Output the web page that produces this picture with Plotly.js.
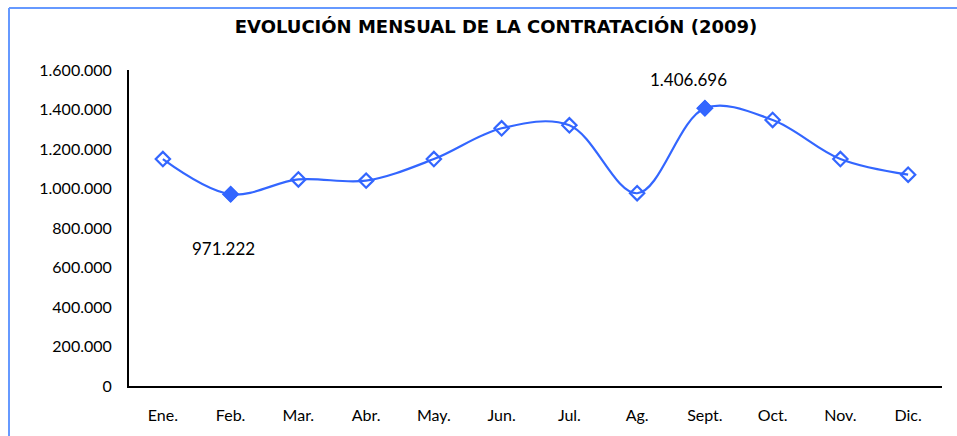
<!DOCTYPE html>
<html>
<head>
<meta charset="utf-8">
<script src="https://cdn.plot.ly/plotly-3.0.1.min.js"></script>
<style>html,body{margin:0;padding:0;background:#fff;}#chart{width:957px;height:436px;}</style>
</head>
<body>
<div id="chart"></div>
<script>
const months = ["Ene.","Feb.","Mar.","Abr.","May.","Jun.","Jul.","Ag.","Sept.","Oct.","Nov.","Dic."];
const contrataciones = [1149000, 971222, 1046000, 1040000, 1149000, 1305000, 1320000, 976000, 1406696, 1347000, 1149000, 1070000];
const yTicks = [0, 200000, 400000, 600000, 800000, 1000000, 1200000, 1400000, 1600000];

const FONT = "Lato, 'Open Sans', sans-serif";
const TFONT = "'DejaVu Sans', 'Open Sans', sans-serif";
const BLUE = "#3366ff";
function fmt(v){ return String(Math.round(v)).replace(/\B(?=(\d{3})+(?!\d))/g, "."); }

const iMin = contrataciones.indexOf(Math.min(...contrataciones));
const iMax = contrataciones.indexOf(Math.max(...contrataciones));

const line = {
  x: months, y: contrataciones, type: "scatter", mode: "lines+markers",
  line: {color: BLUE, width: 2.2, shape: "spline", smoothing: 1},
  marker: {symbol: "diamond-open", size: 11, color: BLUE, line: {width: 2.2, color: BLUE}},
  hoverinfo: "skip"
};
const hi = {
  x: [months[iMin], months[iMax]], y: [contrataciones[iMin], contrataciones[iMax]],
  type: "scatter", mode: "markers",
  marker: {symbol: "diamond", size: 12, color: BLUE, line: {width: 1, color: BLUE}},
  hoverinfo: "skip"
};

const layout = {
  width: 957, height: 436,
  margin: {l: 129, r: 15, t: 70, b: 50},
  paper_bgcolor: "#fff", plot_bgcolor: "#fff",
  showlegend: false,
  separators: ",.",
  font: {family: FONT, size: 16, color: "#000"},
  title: {text: "<b>EVOLUCIÓN MENSUAL DE LA CONTRATACIÓN (2009)</b>", x: 496/957, xref: "container", xanchor: "center",
          y: 1 - 27/436, yref: "container", yanchor: "middle", font: {family: TFONT, size: 18, color: "#000"}},
  xaxis: {
    type: "category", range: [-0.5, 11.5], showgrid: false, zeroline: false, showline: true, linecolor: "#000", linewidth: 2,
    ticks: "", ticklabelstandoff: 14, tickfont: {family: FONT, size: 16, color: "#000"}, fixedrange: true
  },
  yaxis: {
    range: [0, 1600000], tickvals: yTicks, ticktext: yTicks.map(fmt), showgrid: false, zeroline: false,
    showline: true, linecolor: "#000", linewidth: 2, ticks: "", ticklabelstandoff: 12,
    tickfont: {family: FONT, size: 16, color: "#000"}, fixedrange: true
  },
  annotations: [
    {x: months[iMin], y: contrataciones[iMin], text: fmt(contrataciones[iMin]), showarrow: false, xref: "x", yref: "y",
     xshift: -7, yshift: -54, font: {family: FONT, size: 17, color: "#000"}},
    {x: months[iMax], y: contrataciones[iMax], text: fmt(contrataciones[iMax]), showarrow: false, xref: "x", yref: "y",
     xshift: -16, yshift: 29, font: {family: FONT, size: 17, color: "#000"}}
  ],
  shapes: [
    {type: "line", xref: "paper", yref: "paper", x0: -120/813, x1: 1 + 15/813, y0: 1 + 62/316, y1: 1 + 62/316, line: {color: "#6699ff", width: 2}},
    {type: "line", xref: "paper", yref: "paper", x0: -120/813, x1: -120/813, y0: 1 + 62/316, y1: -50/316, line: {color: "#6699ff", width: 2}}
  ]
};

Plotly.newPlot("chart", [line, hi], layout, {displayModeBar: false, staticPlot: true});
</script>
</body>
</html>
